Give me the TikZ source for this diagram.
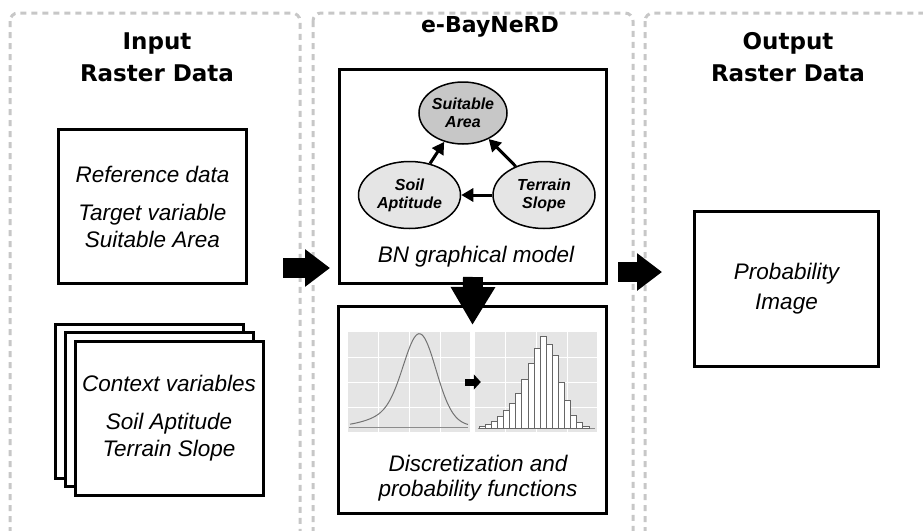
\documentclass[tikz,border=0pt]{standalone}
\usepackage{fontspec}
\setmainfont{Liberation Sans}
\newfontfamily\headfont{DejaVu Sans}
\usetikzlibrary{arrows.meta,shapes.geometric}

\begin{document}
\begin{tikzpicture}[x=1pt,y=-1pt,
  panel/.style={draw=black!22,line width=3pt,dash pattern=on 6pt off 5pt,rounded corners=8pt},
  head/.style={font=\headfont\bfseries\fontsize{23}{32}\selectfont,align=center},
  box/.style={draw,line width=3pt,fill=white,minimum width=188pt,minimum height=154pt,
    align=center,font=\itshape\fontsize{22.5}{27}\selectfont},
  var/.style={ellipse,draw,line width=1.5pt,fill=black!10,minimum width=102pt,minimum height=67pt,
    inner sep=0pt,align=center,font=\bfseries\itshape\fontsize{16}{18}\selectfont},
  link/.style={line width=3pt,-{Triangle[length=12pt,width=13pt]}},
  chart/.style={fill=black!10,minimum width=122pt,minimum height=100pt,inner sep=0pt},
  bigarrow/.style={line width=20pt,-{Triangle[length=25pt,width=36pt]}}]
  \useasboundingbox (0,0) rectangle (923,530);
  \clip (0,0) rectangle (923,530);
  % three stages
  \draw[panel] (10,13) rectangle (300,560);
  \draw[panel] (313,13) rectangle (633,560);
  \draw[panel] (645,13) rectangle (940,560);
  \node[head] (intitle) at (157,57) {Input\\Raster Data};
  \node[head,font=\headfont\bfseries\fontsize{22}{26}\selectfont] (ebtitle) at (490,27) {e-BayNeRD};
  \node[head] (outtitle) at (788,57) {Output\\Raster Data};
  % input rasters
  \node[box] (ref) at (152.5,206.5) {Reference data\\[11pt]Target variable\\Suitable Area};
  \node[box] (ctx2) at (149.5,401) {};
  \node[box] (ctx1) at (159,409.5) {};
  \node[box] (ctx) at (169,418.5) {Context variables\\[11pt]Soil Aptitude\\Terrain Slope};
  % BN graphical model
  \node[box,minimum width=267pt,minimum height=214pt] (bn) at (473,176.5) {};
  \node[var,fill=black!22,minimum width=82pt,minimum height=62pt] (sa) at (463,113) {Suitable\\Area};
  \node[var] (soil) at (409.5,195) {Soil\\Aptitude};
  \node[var] (slope) at (544,195) {Terrain\\Slope};
  \draw[link] (soil) -- (sa);
  \draw[link] (slope) -- (sa);
  \draw[link] (slope) -- (soil);
  \node[font=\itshape\fontsize{22.5}{27}\selectfont] (bnlabel) at (476,257) {BN graphical model};
  % discretization
  \node[box,minimum width=268pt,minimum height=207pt] (disc) at (472.5,410) {};
  \node[chart] (pdf) at (409,382) {};
  \node[chart] (hist) at (536,382) {};
  \foreach \g in {30,61,92} {
    \draw[white,line width=0.6pt] (348+\g,332) -- (348+\g,432);
    \draw[white,line width=0.6pt] (475+\g,332) -- (475+\g,432);
  }
  \foreach \g in {357,382,407} \draw[white,line width=0.6pt] (348,\g) -- (597,\g);
  \draw[black!45,line width=1pt] (349,427.5) -- (468,427.5);
  \draw[black!55,line width=1pt] plot[domain=350:468,samples=80,smooth]
    (\x,{427-80*exp(-((\x-420)/16)^2/2)-15*exp(-((\x-405)/30)^2/2)});
  \draw[black!45,line width=1pt] (478,428) -- (595,428);
  \foreach \h [count=\i] in {2,4,7,12,18,25,35,49,65,80,92,84,73,46,28,13,6,2}
    \draw[black!60,fill=white,line width=0.8pt] ({473+6.1*\i},428) rectangle +(6.1,-\h);
  \draw[line width=7pt,-{Triangle[length=7pt,width=15pt]}] ([xshift=-5pt]pdf.east) -- ([xshift=6pt]hist.west);
  \node[font=\itshape\fontsize{22.5}{25}\selectfont,align=center] (disclabel) at (478,478)
    {Discretization and\\probability functions};
  % output raster
  \node[box,minimum width=184pt,minimum height=155pt] (prob) at (786.5,289) {Probability\\[3pt]Image};
  % flow
  \coordinate (inA) at (283,268);
  \coordinate (outA) at (618,272);
  \draw[bigarrow,shorten >=8pt] (inA) -- (inA -| bn.west);
  \draw[bigarrow,shorten >=31pt] (outA) -- (outA -| prob.west);
  \draw[bigarrow,-{Triangle[length=38pt,width=42pt]}] ([yshift=8pt]bn.south) -- ([yshift=-20pt]disc.north);
\end{tikzpicture}
\end{document}
